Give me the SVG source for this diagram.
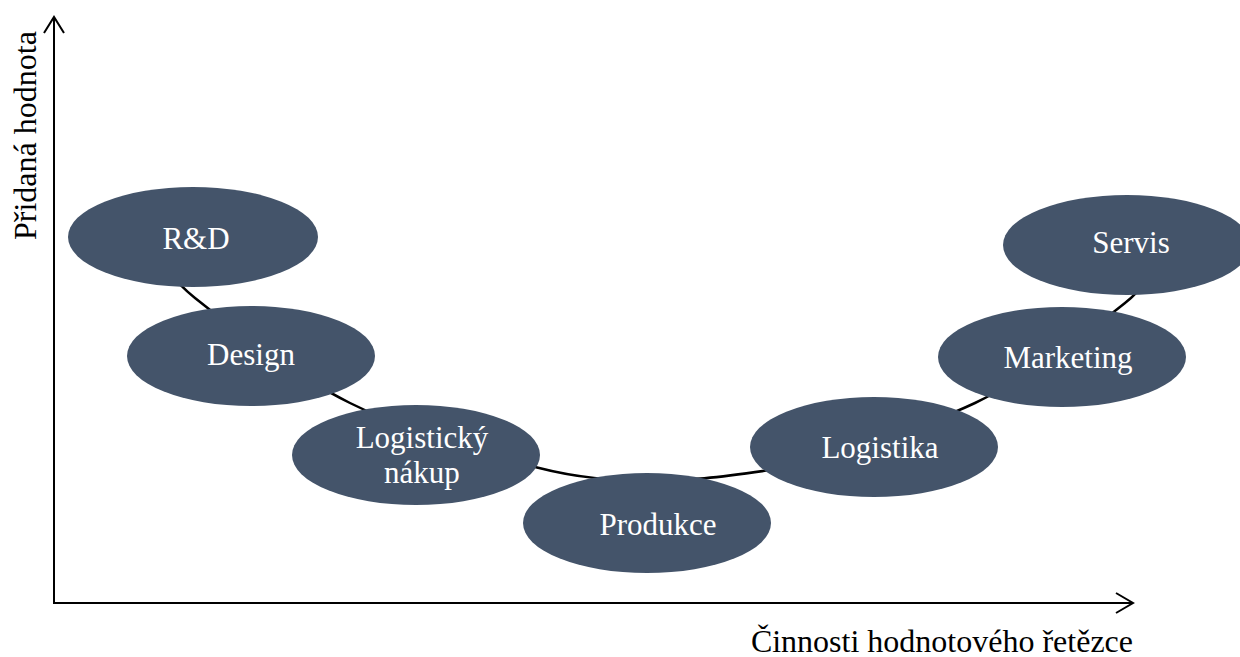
<svg xmlns="http://www.w3.org/2000/svg" width="1240" height="657" viewBox="0 0 1240 657">
<style>
.node ellipse{fill:#44546A;stroke:none}
.node text{font-family:"Liberation Serif","Times New Roman",serif;font-size:31px;fill:#ffffff;text-anchor:middle}
.axis{stroke:#000;stroke-width:2;fill:none}
.lbl{font-family:"Liberation Serif","Times New Roman",serif;font-size:32px;fill:#000}
</style>
<rect width="1240" height="657" fill="#ffffff"/>
<g id="axes">
<line class="axis" x1="54" y1="604" x2="54" y2="17"/>
<polyline class="axis" points="44,33 54,17 64,33"/>
<line class="axis" x1="53" y1="603" x2="1133" y2="603"/>
<polyline class="axis" points="1116,593 1133,603 1116,613"/>
<text class="lbl" transform="translate(36,240) rotate(-90)">Přidaná hodnota</text>
<text class="lbl" x="1133" y="652" text-anchor="end">Činnosti hodnotového řetězce</text>
</g>
<g id="connectors">
<path d="M150,240 C157.5,249.7 161.7,270.8 195,298 C228.3,325.2 293.3,374.8 350,403 C406.7,431.2 485,454.2 535,467 C585,479.8 610.8,479.5 650,480 C689.2,480.5 715.8,478 770,470 C824.2,457.2 915.8,430.8 975,403 C1034.2,374.2 1094.2,327.7 1125,303 C1150,283 1154,265 1160,255" fill="none" stroke="#000" stroke-width="2.5"/>
</g>
<g id="rd" class="node"><ellipse cx="193" cy="237" rx="125" ry="50"/><text x="196" y="249">R&amp;D</text></g>
<g id="design" class="node"><ellipse cx="251" cy="356" rx="124" ry="50"/><text x="251" y="365">Design</text></g>
<g id="logisticky-nakup" class="node"><ellipse cx="416" cy="455" rx="124" ry="50"/><text x="422" y="448">Logistický</text><text x="422" y="483">nákup</text></g>
<g id="produkce" class="node"><ellipse cx="647" cy="523" rx="124" ry="50"/><text x="658" y="535">Produkce</text></g>
<g id="logistika" class="node"><ellipse cx="874" cy="447" rx="124" ry="50"/><text x="880" y="458">Logistika</text></g>
<g id="marketing" class="node"><ellipse cx="1062" cy="357" rx="124" ry="50"/><text x="1068" y="368">Marketing</text></g>
<g id="servis" class="node"><ellipse cx="1127" cy="245" rx="124" ry="50"/><text x="1131" y="253">Servis</text></g>
</svg>
